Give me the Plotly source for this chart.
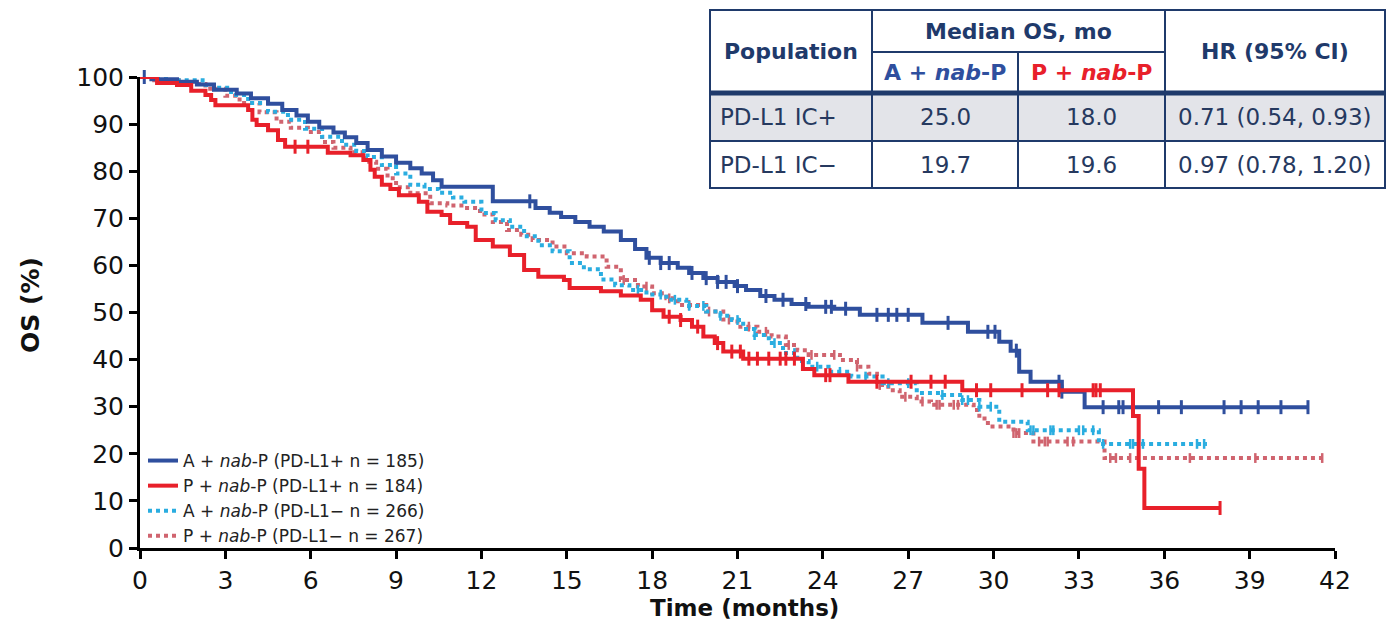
import numpy as np
import plotly.graph_objects as go

# ---------------- data ----------------
# A + nab-P, PD-L1 IC+
t_a_pos = [0, 0.4, 1.3, 2.0, 2.6, 3.4, 3.9, 4.5, 5.0, 5.5, 5.9, 6.3, 6.8, 7.2, 7.6, 8.0, 8.5, 9.0, 9.5, 9.9,
           10.3, 10.6, 12.4, 13.9, 14.4, 14.8, 15.3, 15.8, 16.3, 16.9, 17.4, 17.8, 18.3, 18.9, 19.3, 19.8,
           20.3, 20.9, 21.3, 21.8, 22.3, 22.9, 23.5, 24.4, 25.3, 27.5, 29.1, 30.2, 30.6, 30.9, 31.3, 32.4, 33.2]
s_a_pos = [100, 99.5, 99.0, 98.4, 97.3, 96.5, 95.5, 94.3, 93.0, 91.8, 90.5, 89.3, 88.2, 87.2, 86.0, 84.5, 83.1,
           81.8, 80.6, 79.5, 78.1, 76.7, 73.6, 72.2, 71.2, 70.3, 69.2, 68.2, 67.2, 65.4, 63.5, 61.6, 60.5, 59.5,
           58.4, 57.3, 56.5, 55.6, 54.8, 53.5, 52.7, 51.8, 51.2, 50.8, 49.5, 47.8, 45.9, 43.8, 41.9, 37.4, 35.3,
           33.2, 29.9]
end_a_pos = 41.05
c_a_pos = [0.15, 13.7, 17.9, 18.3, 18.6, 19.4, 19.9, 20.3, 20.6, 21.0, 22.0, 22.6, 23.4, 24.1, 24.3, 24.8,
           25.9, 26.3, 26.6, 27.0, 28.4, 29.8, 30.05, 30.8, 32.3, 32.4, 33.85, 34.4, 34.55, 35.8, 36.6, 38.1,
           38.7, 39.3, 40.1, 41.05]

# P + nab-P, PD-L1 IC+
t_p_pos = [0, 0.6, 1.3, 1.8, 2.3, 2.5, 2.65, 3.8, 3.95, 4.1, 4.5, 4.85, 5.1, 6.6, 7.4, 7.85, 8.1, 8.25, 8.5,
           8.8, 9.1, 9.8, 10.1, 10.6, 10.9, 11.5, 11.8, 12.4, 13.0, 13.5, 14.0, 14.9, 15.1, 16.2, 16.9, 17.6,
           18.0, 18.4, 19.0, 19.4, 19.8, 20.2, 20.5, 21.2, 23.3, 23.7, 24.9, 28.9, 34.9, 35.1, 35.3]
s_p_pos = [100, 98.7, 98.3, 97.1, 96.2, 95.1, 94.0, 93.0, 90.9, 89.8, 88.7, 86.6, 85.2, 83.9, 83.4, 82.4,
           80.3, 78.8, 77.1, 76.2, 74.9, 73.5, 71.4, 70.7, 69.0, 68.2, 65.4, 64.0, 62.2, 59.0, 57.6, 56.9,
           55.2, 54.5, 53.6, 52.7, 50.5, 49.1, 48.4, 47.0, 44.9, 43.5, 41.7, 40.2, 38.0, 36.7, 35.3, 33.5,
           28.0, 16.8, 8.5]
end_p_pos = 37.96
c_p_pos = [5.45, 5.9, 18.6, 19.0, 19.6, 20.3, 20.8, 21.1, 21.4, 21.7, 22.1, 22.5, 22.7, 23.0, 24.1, 24.25,
           25.9, 27.1, 27.8, 28.3, 29.4, 29.9, 31.0, 31.9, 32.3, 33.5, 33.6, 33.75, 37.96]

# A + nab-P, PD-L1 IC-
t_a_neg = [0, 1.0, 2.2, 2.6, 3.2, 3.8, 4.5, 5.2, 5.8, 6.4, 7.1, 7.6, 8.0, 8.5, 9.0, 9.5, 10.0, 10.5, 11.0,
           11.4, 12.0, 12.5, 13.0, 13.5, 14.0, 14.5, 15.1, 15.6, 16.2, 16.7, 17.2, 17.8, 18.5, 19.2, 19.9,
           20.4, 20.8, 21.2, 21.6, 22.1, 22.6, 23.1, 23.5, 24.2, 25.0, 26.1, 27.3, 28.2, 28.9, 29.5, 30.2,
           31.2, 33.7]
s_a_neg = [100, 99.3, 98.3, 97.7, 96.2, 94.5, 92.6, 90.9, 89.0, 87.3, 85.6, 84.3, 83.0, 81.3, 79.5, 77.1,
           76.2, 75.4, 74.4, 73.5, 71.1, 69.6, 68.2, 66.2, 64.3, 63.0, 60.5, 59.2, 57.0, 55.8, 54.8, 53.8,
           52.7, 51.4, 50.2, 49.3, 48.4, 46.5, 45.2, 43.5, 41.4, 39.7, 38.5, 37.4, 36.4, 35.0, 32.9, 32.5,
           31.4, 30.0, 26.8, 25.0, 22.1]
end_a_neg = 37.5
c_a_neg = [17.5, 18.3, 18.8, 19.3, 19.8, 20.4, 21.0, 21.6, 22.3, 23.0, 23.8, 24.6, 25.5, 26.3, 27.0, 28.2,
           28.9, 29.1, 29.5, 29.9, 31.3, 31.4, 32.0, 32.1, 33.0, 33.15, 33.5, 33.85, 34.8, 34.9, 35.25,
           37.15, 37.4]

# P + nab-P, PD-L1 IC-
t_p_neg = [0, 0.5, 1.5, 2.3, 3.0, 3.5, 4.2, 4.8, 5.3, 5.9, 6.4, 6.8, 7.4, 7.9, 8.3, 8.7, 9.0, 9.5, 10.2,
           10.8, 11.4, 11.95, 12.4, 12.9, 13.4, 13.8, 14.5, 15.0, 15.7, 16.4, 16.9, 17.5, 18.0, 18.5, 18.9,
           19.9, 20.5, 21.0, 21.7, 22.2, 22.7, 23.1, 23.5, 24.6, 25.2, 25.6, 25.9, 26.3, 26.7, 27.3, 27.8,
           29.3, 29.5, 29.8, 30.7, 31.4, 33.9]
s_p_neg = [100, 99.3, 98.5, 97.5, 96.0, 94.5, 92.5, 90.5, 89.2, 88.3, 86.2, 85.0, 84.0, 82.0, 80.5, 78.5,
           76.6, 75.3, 73.2, 72.7, 72.2, 70.8, 69.2, 67.5, 66.5, 65.4, 64.0, 62.6, 61.9, 59.7, 56.9, 55.5,
           54.1, 53.0, 51.6, 50.2, 48.5, 47.0, 45.9, 44.9, 43.1, 42.0, 41.0, 39.9, 38.5, 37.0, 34.6, 33.5,
           32.1, 31.1, 30.4, 29.3, 27.5, 25.8, 24.4, 22.6, 19.1]
end_p_neg = 41.6
c_p_neg = [17.0, 17.8, 18.6, 19.3, 20.0, 20.7, 21.4, 22.0, 22.8, 23.6, 24.4, 25.2, 26.0, 26.9, 27.5, 28.0,
           28.1, 28.6, 28.75, 30.7, 30.8, 30.9, 31.6, 31.8, 31.9, 32.6, 32.8, 34.1, 34.3, 34.8, 36.9, 39.2,
           41.55]

series_names = ["A + <i>nab</i>-P (PD-L1+ n = 185)", "P + <i>nab</i>-P (PD-L1+ n = 184)",
                "A + <i>nab</i>-P (PD-L1\u2212 n = 266)", "P + <i>nab</i>-P (PD-L1\u2212 n = 267)"]

x_ticks = list(range(0, 43, 3))
y_ticks = list(range(0, 101, 10))

# table content
tbl_rows = ["PD-L1 IC+", "PD-L1 IC\u2212"]
tbl_a_median = ["25.0", "19.7"]
tbl_p_median = ["18.0", "19.6"]
tbl_hr = ["0.71 (0.54, 0.93)", "0.97 (0.78, 1.20)"]

# ---------------- styling ----------------
BLUE = "#2F4F9E"
RED = "#E8202A"
CYAN = "#2AADE0"
PINK = "#D0646F"
NAVY = "#1F3A6B"
TXT = "#26395F"
FONT = "DejaVu Sans"

W, H = 1387, 621
L, R, T, B = 140, 52, 77, 73
PW, PH = W - L - R, H - T - B


def px(x):
    return (x - L) / PW


def py(y):
    return (H - B - y) / PH


def step_at(times, surv, t):
    i = np.searchsorted(np.asarray(times), t, side="right") - 1
    return float(np.asarray(surv)[i])


series = [
    (t_a_pos, s_a_pos, end_a_pos, c_a_pos, BLUE, "solid", series_names[0], 1),
    (t_p_pos, s_p_pos, end_p_pos, c_p_pos, RED, "solid", series_names[1], 2),
    (t_a_neg, s_a_neg, end_a_neg, c_a_neg, CYAN, "dot", series_names[2], 3),
    (t_p_neg, s_p_neg, end_p_neg, c_p_neg, PINK, "dot", series_names[3], 4),
]

fig = go.Figure()
draw_order = [3, 2, 0, 1]
for k in draw_order:
    t, s, end, cens, col, dash, name, rank = series[k]
    xs = list(t) + [end]
    ys = list(s) + [s[-1]]
    fig.add_trace(go.Scatter(
        x=xs, y=ys, mode="lines", line=dict(color=col, width=4, dash=dash, shape="hv"),
        name=name, legendrank=rank, cliponaxis=False, hoverinfo="skip"))
    cy = [step_at(t, s, c) for c in cens]
    solid = dash == "solid"
    fig.add_trace(go.Scatter(
        x=cens, y=cy, mode="markers", showlegend=False, cliponaxis=False, hoverinfo="skip",
        marker=dict(symbol="line-ns-open", size=10 if solid else 7, color=col,
                    line=dict(color=col, width=3 if solid else 2.5))))

fig.update_layout(
    width=W, height=H,
    margin=dict(l=L, r=R, t=T, b=B, autoexpand=False),
    paper_bgcolor="white", plot_bgcolor="white",
    font=dict(family=FONT, color="#111111"),
    showlegend=True,
    legend=dict(x=px(143), y=py(443), xanchor="left", yanchor="top",
                font=dict(family=FONT, size=17, color="#222222"),
                bgcolor="rgba(0,0,0,0)", tracegroupgap=0, itemwidth=30,
                traceorder="normal"),
    xaxis=dict(range=[0, 42], tickvals=x_ticks, ticktext=[str(v) for v in x_ticks],
               showline=True, linecolor="black", linewidth=3, ticks="outside", ticklen=8,
               tickwidth=3, tickcolor="black", showgrid=False, zeroline=False,
               tickfont=dict(family=FONT, size=25, color="#111111")),
    yaxis=dict(range=[0, 100], tickvals=y_ticks, ticktext=[str(v) for v in y_ticks],
               showline=True, linecolor="black", linewidth=3, ticks="outside", ticklen=8,
               tickwidth=3, tickcolor="black", showgrid=False, zeroline=False,
               tickfont=dict(family=FONT, size=25, color="#111111")),
)

ann = []
ann.append(dict(x=px(744), y=py(608), xref="paper", yref="paper", text="<b>Time (months)</b>",
                xanchor="center", yanchor="middle",
                showarrow=False, font=dict(family=FONT, size=23, color="#111111")))
ann.append(dict(x=px(30), y=py(305), xref="paper", yref="paper", text="<b>OS (%)</b>", textangle=-90,
                xanchor="center", yanchor="middle",
                showarrow=False, font=dict(family=FONT, size=25, color="#111111")))

# ---------------- table (top right) ----------------
tx0, tx1, tx2, tx3, tx4 = 710, 872, 1018, 1165, 1385
ty0, ty1, ty2, ty3, ty4 = 10, 52, 93, 141, 188
shapes = []
shapes.append(dict(type="rect", xref="paper", yref="paper", x0=px(tx0), x1=px(tx4), y0=py(ty2), y1=py(ty3),
                   fillcolor="#E3E4E9", line=dict(width=0), layer="below"))
shapes.append(dict(type="rect", xref="paper", yref="paper", x0=px(tx0), x1=px(tx4), y0=py(ty0), y1=py(ty4),
                   fillcolor="rgba(0,0,0,0)", line=dict(color=NAVY, width=2)))
for xv in (tx1, tx2, tx3):
    y_top = ty1 if xv == tx2 else ty0
    shapes.append(dict(type="line", xref="paper", yref="paper", x0=px(xv), x1=px(xv), y0=py(y_top),
                       y1=py(ty4), line=dict(color=NAVY, width=2)))
shapes.append(dict(type="line", xref="paper", yref="paper", x0=px(tx1), x1=px(tx3), y0=py(ty1), y1=py(ty1),
                   line=dict(color=NAVY, width=2)))
shapes.append(dict(type="line", xref="paper", yref="paper", x0=px(tx0), x1=px(tx4), y0=py(ty2), y1=py(ty2),
                   line=dict(color=NAVY, width=5)))
shapes.append(dict(type="line", xref="paper", yref="paper", x0=px(tx0), x1=px(tx4), y0=py(ty3), y1=py(ty3),
                   line=dict(color=NAVY, width=2)))


def cell(x, y, text, color, size=22, xanchor="center"):
    ann.append(dict(x=px(x), y=py(y), xref="paper", yref="paper", text=text, showarrow=False,
                    xanchor=xanchor, yanchor="middle", font=dict(family=FONT, size=size, color=color)))


cell((tx0 + tx1) / 2, (ty0 + ty2) / 2, "<b>Population</b>", NAVY)
cell((tx1 + tx3) / 2, (ty0 + ty1) / 2, "<b>Median OS, mo</b>", NAVY)
cell((tx1 + tx2) / 2, (ty1 + ty2) / 2, "<b>A + <i>nab</i>-P</b>", BLUE)
cell((tx2 + tx3) / 2, (ty1 + ty2) / 2, "<b>P + <i>nab</i>-P</b>", RED)
cell((tx3 + tx4) / 2, (ty0 + ty2) / 2, "<b>HR (95% CI)</b>", NAVY)
row_y = [(ty2 + ty3) / 2, (ty3 + ty4) / 2]
for i in range(2):
    cell(tx0 + 8, row_y[i], tbl_rows[i], TXT, size=23, xanchor="left")
    cell((tx1 + tx2) / 2, row_y[i], tbl_a_median[i], TXT, size=23)
    cell((tx2 + tx3) / 2, row_y[i], tbl_p_median[i], TXT, size=23)
    cell((tx3 + tx4) / 2, row_y[i], tbl_hr[i], TXT, size=23)

fig.update_layout(annotations=ann, shapes=shapes)
fig.write_html("out.html")
